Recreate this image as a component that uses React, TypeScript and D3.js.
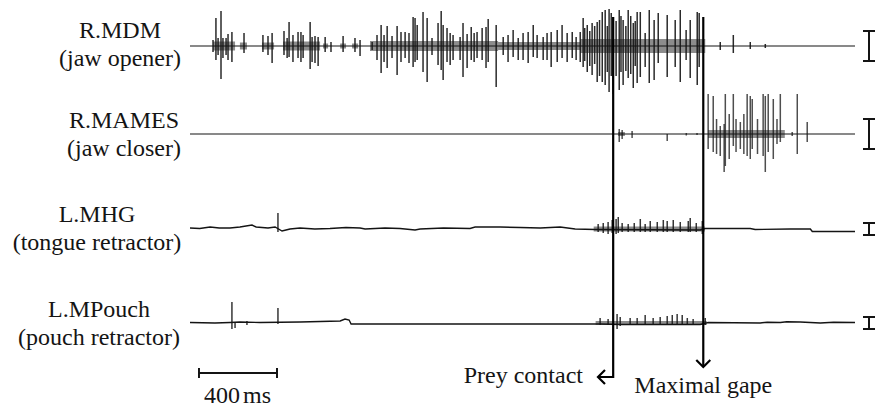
import React from "react";
import * as d3 from "d3";

// time axis of the recording, ms
const totalMs = 3410;
const scaleBarStart = 46;
const scaleBarMs = 400;

// spikes: [time ms, up µV, down µV]
const mdmSpikes: [number, number, number][] = [
  [118, 60, 60], [133, 280, 140], [144, 80, 90], [159, 350, 330], [169, 80, 120],
  [185, 80, 90], [195, 120, 140], [215, 140, 160], [277, 130, 70], [374, 110, 60],
  [400, 100, 90], [421, 130, 170], [482, 150, 90], [498, 80, 120], [508, 240, 110],
  [528, 110, 160], [554, 140, 120], [569, 140, 160], [580, 110, 120], [616, 240, 230],
  [626, 90, 160], [641, 100, 170], [657, 90, 200], [693, 90, 60], [723, 40, 60],
  [785, 100, 60], [846, 80, 60], [872, 60, 100], [934, 40, 40], [959, 110, 140],
  [980, 210, 270], [995, 110, 160], [1011, 200, 220], [1036, 100, 120], [1062, 200, 290],
  [1082, 140, 160], [1103, 140, 120], [1123, 130, 170], [1144, 290, 210], [1154, 280, 160],
  [1165, 210, 140], [1195, 340, 260], [1216, 280, 360], [1241, 80, 90], [1272, 230, 190],
  [1288, 350, 240], [1298, 210, 340], [1318, 180, 160], [1334, 130, 190], [1349, 110, 140],
  [1385, 90, 140], [1400, 230, 310], [1421, 120, 220], [1442, 190, 140], [1457, 130, 160],
  [1472, 140, 120], [1498, 180, 140], [1518, 190, 220], [1529, 270, 160], [1570, 210, 410],
  [1606, 90, 90], [1631, 110, 160], [1657, 160, 110], [1683, 80, 140], [1708, 130, 140],
  [1734, 140, 170], [1760, 210, 110], [1780, 110, 120], [1811, 90, 140], [1831, 130, 140],
  [1852, 140, 210], [1883, 160, 160], [1908, 210, 120], [1934, 130, 160], [1960, 140, 120],
  [1980, 90, 140], [2001, 140, 160], [2016, 280, 210], [2024, 180, 150], [2037, 210, 260],
  [2050, 150, 200], [2062, 230, 290], [2075, 200, 180], [2088, 240, 360], [2100, 260, 300],
  [2114, 340, 360], [2129, 360, 390], [2140, 200, 260], [2149, 370, 460], [2160, 330, 300],
  [2170, 290, 480], [2185, 250, 300], [2201, 360, 440], [2210, 300, 260], [2221, 260, 390],
  [2235, 200, 250], [2247, 360, 320], [2260, 300, 280], [2273, 230, 420], [2283, 250, 200],
  [2293, 340, 370], [2309, 340, 310], [2334, 130, 210], [2355, 360, 370], [2380, 260, 340],
  [2401, 330, 170], [2447, 310, 310], [2488, 260, 210], [2514, 360, 360], [2544, 160, 140],
  [2565, 260, 320], [2601, 340, 390], [2611, 330, 210], [2719, 40, 40], [2786, 110, 70],
  [2873, 40, 30], [2950, 20, 20],
];
// dense low-level activity: [start ms, end ms, amplitude µV]
const mdmBursts: [number, number, number][] = [
  [118, 231, 45], [256, 292, 35], [369, 431, 35], [477, 667, 45], [682, 708, 25],
  [770, 800, 25], [831, 862, 25], [923, 1580, 50], [1580, 2001, 40], [2001, 2642, 70],
];
const mdmBaseline: [number, number][] = [[0, 0], [totalMs, 0]];

const mamesSpikes: [number, number, number][] = [
  [2201, 50, 80], [2216, 40, 50], [2267, 30, 40], [2447, 0, 70], [2545, 10, 15],
  [2600, 10, 10], [2657, 400, 150], [2683, 380, 180], [2700, 150, 200], [2719, 80, 220],
  [2739, 100, 380], [2745, 400, 320], [2765, 200, 250], [2786, 400, 120], [2800, 150, 180],
  [2822, 120, 150], [2840, 200, 200], [2857, 400, 220], [2873, 380, 250], [2883, 350, 150],
  [2910, 150, 200], [2939, 400, 220], [2950, 380, 380], [2965, 400, 180], [2991, 350, 250],
  [3010, 150, 100], [3027, 400, 80], [3088, 20, 20], [3114, 400, 200], [3165, 120, 80],
];
const mamesBursts: [number, number, number][] = [[2195, 2230, 20], [2657, 3050, 40]];
const mamesBaseline: [number, number][] = [[0, 0], [totalMs, 0]];

const mhgSpikes: [number, number, number][] = [
  [451, 160, 30], [2093, 50, 30], [2119, 60, 40], [2144, 70, 50], [2165, 90, 40],
  [2185, 100, 50], [2196, 120, 40], [2216, 60, 30], [2247, 50, 30], [2278, 60, 30],
  [2309, 100, 30], [2334, 50, 30], [2360, 80, 30], [2396, 70, 30], [2427, 90, 30],
  [2447, 80, 30], [2478, 90, 30], [2514, 70, 30], [2555, 80, 30], [2565, 110, 30],
  [2596, 60, 30], [2627, 80, 50],
];
const mhgBursts: [number, number, number][] = [[2070, 2640, 25]];
// baseline drift: [time ms, µV]
const mhgBaseline: [number, number][] = [
  [0, 10], [50, 5], [103, 20], [150, 10], [205, 10], [256, 20], [318, 40], [339, 20],
  [400, 10], [436, 20], [472, -20], [513, 0], [564, 10], [640, 0], [718, 5], [800, 15],
  [872, 10], [898, 0], [1000, 10], [1077, 5], [1154, -10], [1180, 0], [1300, 10],
  [1436, 5], [1462, 20], [1590, 20], [1693, 15], [1796, 10], [1898, 20], [1975, 0],
  [2078, -5], [2616, -10], [2642, 5], [2873, 5], [2898, -5], [3078, 0], [3181, 0],
  [3191, -25], [totalMs, -25],
];

const pouchSpikes: [number, number, number][] = [
  [215, 210, 60], [231, 0, 50], [292, 20, 20], [451, 150, 10], [2103, 50, 20],
  [2144, 40, 20], [2190, 90, 60], [2206, 60, 30], [2257, 50, 20], [2293, 50, 20],
  [2334, 80, 20], [2375, 50, 20], [2411, 60, 20], [2447, 70, 20], [2473, 80, 20],
  [2498, 90, 20], [2524, 80, 20], [2550, 50, 20], [2580, 40, 20], [2642, 50, 20],
];
const pouchBursts: [number, number, number][] = [[2080, 2650, 20]];
const pouchBaseline: [number, number][] = [
  [0, 5], [128, 0], [205, 5], [256, 10], [359, 5], [564, 10], [770, 20], [795, 40],
  [816, 30], [826, -10], [2103, -10], [2206, -15], [2616, -15], [2657, 5], [2924, 0],
  [2960, 8], [3027, 5], [3060, 12], [3129, 10], [3232, 0], [3300, 8], [totalMs, 5],
];

const muscleNames = ["R.MDM", "R.MAMES", "L.MHG", "L.MPouch"];
const muscleRoles = ["(jaw opener)", "(jaw closer)", "(tongue retractor)", "(pouch retractor)"];
const calibrationUv = [300, 300, 120, 120];

const preyContactMs = 2170;
const maxGapeMs = 2632;

const W = 884;
const H = 409;
const font = "'Liberation Serif', 'Times New Roman', serif";
const ink = "#141414";

export default function App() {
  const x = d3.scaleLinear().domain([0, totalMs]).range([190, 855]);

  const channels = [
    { spikes: mdmSpikes, bursts: mdmBursts, baseline: mdmBaseline, y0: 46, labelX: 120, labelY: 38, op: 0.9 },
    { spikes: mamesSpikes, bursts: mamesBursts, baseline: mamesBaseline, y0: 134, labelX: 124, labelY: 128, op: 0.75 },
    { spikes: mhgSpikes, bursts: mhgBursts, baseline: mhgBaseline, y0: 229, labelX: 97, labelY: 222, op: 0.85 },
    { spikes: pouchSpikes, bursts: pouchBursts, baseline: pouchBaseline, y0: 323, labelX: 99, labelY: 317, op: 0.85 },
  ];

  const preyX = x(preyContactMs);
  const gapeX = x(maxGapeMs);

  return (
    <svg width={W} height={H} style={{ position: "absolute", left: 0, top: 0, background: "#fff" }}>
      {channels.map((ch, i) => {
        // 10 µV per pixel for every channel
        const y = d3.scaleLinear().domain([-1000, 1000]).range([ch.y0 + 100, ch.y0 - 100]);
        const line = d3.line<[number, number]>().x((d) => x(d[0])).y((d) => y(d[1]));
        const half = calibrationUv[i] / 2;
        return (
          <g key={i}>
            <text x={ch.labelX} y={ch.labelY} textAnchor="middle" fontFamily={font} fontSize={24} fill={ink}>
              {muscleNames[i]}
            </text>
            <text x={ch.labelX} y={ch.labelY + 28} textAnchor="middle" fontFamily={font} fontSize={24} fill={ink}>
              {muscleRoles[i]}
            </text>
            {ch.bursts.map((b, j) => (
              <rect key={j} x={x(b[0])} width={x(b[1]) - x(b[0])} y={y(b[2])} height={y(-b[2]) - y(b[2])}
                fill="#1a1a1a" opacity={0.5} />
            ))}
            {ch.spikes.map((s, j) => (
              <line key={j} x1={x(s[0])} x2={x(s[0])} y1={y(s[1])} y2={y(-s[2])}
                stroke={ink} strokeWidth={1.5} opacity={ch.op} />
            ))}
            <path d={line(ch.baseline) || ""} fill="none" stroke={ink} strokeWidth={i < 2 ? 1.2 : 1.4} />
            <g stroke={ink} strokeWidth={2}>
              <line x1={869} x2={869} y1={y(half)} y2={y(-half)} />
              <line x1={863} x2={875} y1={y(half)} y2={y(half)} />
              <line x1={863} x2={875} y1={y(-half)} y2={y(-half)} />
            </g>
          </g>
        );
      })}

      <g stroke="#000" strokeWidth={2.2} fill="none">
        <path d={`M${preyX},17 V377 H598`} />
        <path d={`M605,370 L598,377 L605,384`} />
        <path d={`M${gapeX},17 V367`} />
        <path d={`M${gapeX - 7},360 L${gapeX},367 L${gapeX + 7},360`} />
      </g>
      <text x={583} y={383} textAnchor="end" fontFamily={font} fontSize={24} fill={ink}>Prey contact</text>
      <text x={gapeX} y={393} textAnchor="middle" fontFamily={font} fontSize={24} fill={ink}>Maximal gape</text>

      <g stroke={ink} strokeWidth={2}>
        <line x1={x(scaleBarStart)} x2={x(scaleBarStart + scaleBarMs)} y1={373} y2={373} />
        <line x1={x(scaleBarStart)} x2={x(scaleBarStart)} y1={368} y2={378} />
        <line x1={x(scaleBarStart + scaleBarMs)} x2={x(scaleBarStart + scaleBarMs)} y1={368} y2={378} />
      </g>
      <text x={204} y={403} fontFamily={font} fontSize={24} fill={ink}>
        <tspan>400</tspan>
        <tspan dx={3}>ms</tspan>
      </text>
    </svg>
  );
}
